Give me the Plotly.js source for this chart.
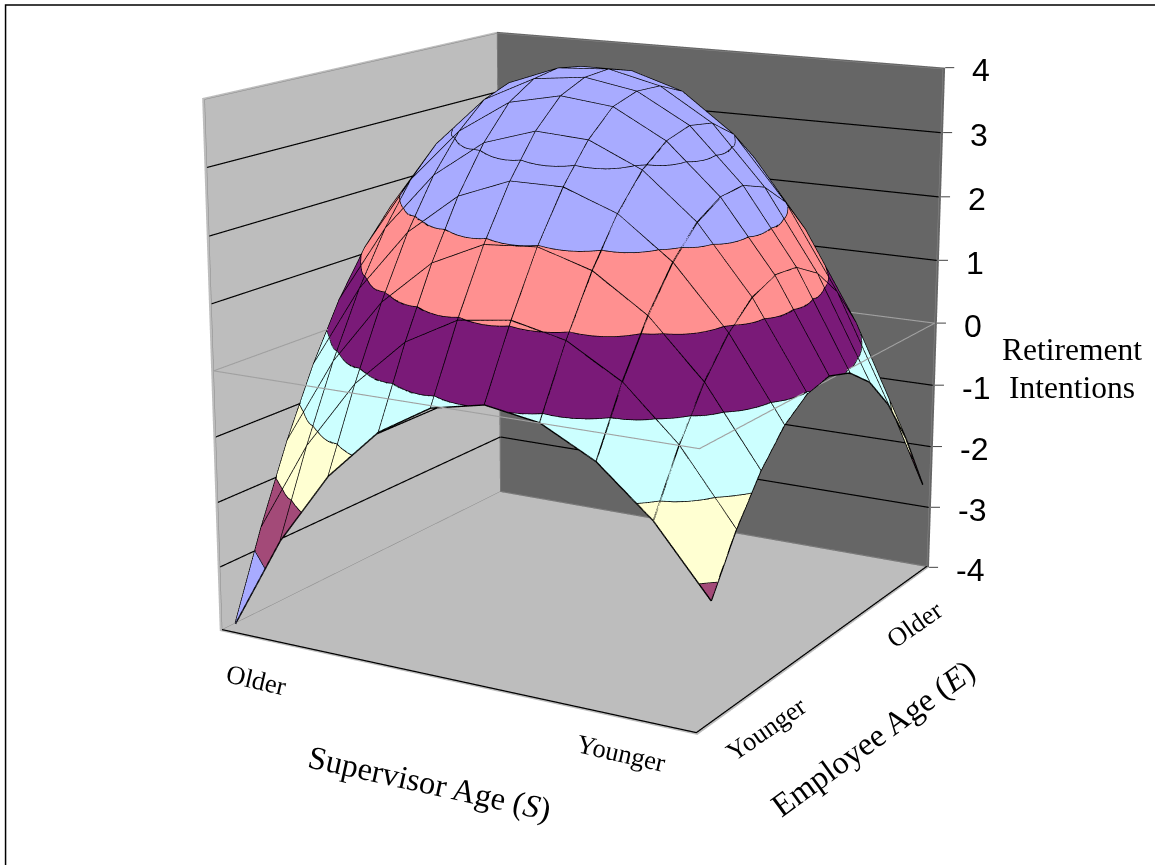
<!DOCTYPE html><html><head><meta charset="utf-8"><script src="https://cdn.plot.ly/plotly-3.0.1.min.js"></script></head><body style="margin:0;background:#fff;overflow:hidden">
<div id="g" style="position:absolute"></div>
<script>
// Supervisor age steps (older -> younger) and employee age steps (younger -> older)
const supervisorSteps=[0,1,2,3,4,5,6,7,8,9];
const employeeSteps=[0,1,2,3,4,5,6,7,8,9,10];
// Retirement intentions, one row per employee age step
const rowE0=[-4.03,-2.55,-1.42,-0.63,-0.15,0.02,-0.11,-0.53,-1.23,-2.21];
const rowE1=[-2.70,-1.28,-0.21,0.53,0.96,1.07,0.89,0.42,-0.35,-1.41];
const rowE2=[-1.51,-0.15,0.86,1.55,1.92,1.98,1.74,1.20,0.37,-0.77];
const rowE3=[-0.48,0.82,1.78,2.41,2.72,2.72,2.42,1.82,0.91,-0.30];
const rowE4=[0.39,1.62,2.52,3.09,3.34,3.29,2.93,2.26,1.27,-0.02];
const rowE5=[1.08,2.25,3.08,3.59,3.76,3.67,3.24,2.50,1.45,0.07];
const rowE6=[1.59,2.69,3.46,3.85,3.94,3.80,3.36,2.55,1.42,-0.05];
const rowE7=[1.91,2.94,3.62,3.92,3.97,3.78,3.29,2.40,1.19,-0.36];
const rowE8=[2.03,2.99,3.60,3.85,3.85,3.60,3.01,2.05,0.76,-0.88];
const rowE9=[1.96,2.85,3.40,3.58,3.52,3.20,2.53,1.50,0.13,-1.60];
const rowE10=[1.79,2.53,2.93,3.21,3.08,2.63,1.86,0.75,-0.71,-2.53];
const zTicks=[-4,-3,-2,-1,0,1,2,3,4];
const bandColors=['#A8ABFF','#A34A78','#FFFFD2','#CCFFFF','#7A1A78','#FF9090','#A8ABFF','#A8ABFF'];

const z=[rowE0,rowE1,rowE2,rowE3,rowE4,rowE5,rowE6,rowE7,rowE8,rowE9,rowE10];
const cam=[2.467,-4.311,1.272,-0.039,0.032,0.043,1.000,0.995,2727.764,577.225,318.032];
function proj(x,y,v){const[ex,ey,ez,ccx,ccy,ccz,ax,ay,F,cx,cy]=cam;
 const X=(x-.5)*ax,Y=(y-.5)*ay,Z=v/8;
 let f=[ccx-ex,ccy-ey,ccz-ez];let n=Math.hypot(...f);f=f.map(w=>w/n);
 let r=[f[1],-f[0],0];n=Math.hypot(...r);r=r.map(w=>w/n);
 const u=[r[1]*f[2]-r[2]*f[1],r[2]*f[0]-r[0]*f[2],r[0]*f[1]-r[1]*f[0]];
 const d=[X-ex,Y-ey,Z-ez];const xc=d[0]*r[0]+d[1]*r[1]+d[2]*r[2],yc=d[0]*u[0]+d[1]*u[1]+d[2]*u[2],zc=d[0]*f[0]+d[1]*f[1]+d[2]*f[2];
 return [cx+F*xc/zc,cy-F*yc/zc];}
const F=cam[8],Hh=2*F*Math.tan(Math.PI/8),Wd=2*Math.max(cam[9],1155-cam[9])+20;
const offX=cam[9]-Wd/2,offY=cam[10]-Hh/2;
const g=document.getElementById('g');g.style.left=offX+'px';g.style.top=offY+'px';g.style.width=Wd+'px';g.style.height=Hh+'px';
const nI=supervisorSteps.length,nJ=employeeSteps.length,tr=[];
const cr=(a,b,c,d,t)=>.5*(2*b+(c-a)*t+(2*a-5*b+4*c-d)*t*t+(3*b-a-3*c+d)*t*t*t);
function ext(i,j){const ii=Math.max(0,Math.min(nI-1,i)),jj=Math.max(0,Math.min(nJ-1,j));let v=z[jj][ii];
 if(i<0)v+=z[jj][0]-z[jj][1];if(i>nI-1)v+=z[jj][nI-1]-z[jj][nI-2];if(j<0)v+=z[0][ii]-z[1][ii];if(j>nJ-1)v+=z[nJ-1][ii]-z[nJ-2][ii];return v;}
function smooth(u,v){const i=Math.min(nI-2,Math.floor(u)),j=Math.min(nJ-2,Math.floor(v)),tu=u-i,tv=v-j;const r=[];for(let m=-1;m<=2;m++)r.push(cr(ext(i-1,j+m),ext(i,j+m),ext(i+1,j+m),ext(i+2,j+m),tu));return cr(r[0],r[1],r[2],r[3],tv);}
function bil(u,v){const i=Math.min(nI-2,Math.floor(u)),j=Math.min(nJ-2,Math.floor(v)),a=u-i,b=v-j;return (1-a)*(1-b)*z[j][i]+a*(1-b)*z[j][i+1]+(1-a)*b*z[j+1][i]+a*b*z[j+1][i+1];}
function clip(poly,lv,up){const o=[];for(let a=0;a<poly.length;a++){const P=poly[a],Q=poly[(a+1)%poly.length];const pi=up?P[3]>=lv:P[3]<=lv,qi=up?Q[3]>=lv:Q[3]<=lv;if(pi)o.push(P);if(pi!=qi){const t=(lv-P[3])/(Q[3]-P[3]);o.push(P.map((w,k)=>w+t*(Q[k]-w)));}}return o;}
const SUB=6,tris=[];const vx=(u,v)=>[u,v,bil(u,v),smooth(u,v)];
for(let a=0;a<(nI-1)*SUB;a++)for(let b=0;b<(nJ-1)*SUB;b++){const u0=a/SUB,u1=(a+1)/SUB,v0=b/SUB,v1=(b+1)/SUB;const A=vx(u0,v0),B=vx(u1,v0),D=vx(u1,v1),E=vx(u0,v1);tris.push([A,B,D],[A,D,E]);}
bandColors.forEach((col,b)=>{const lo=zTicks[b],hi=zTicks[b+1];const X=[],Y=[],Z=[],I=[],J=[],K=[];
 for(const t of tris){const pl=clip(clip(t,lo,true),hi,false);if(pl.length<3)continue;const n0=X.length;pl.forEach(v=>{X.push(v[0]);Y.push(v[1]);Z.push(v[2]);});for(let q=1;q<pl.length-1;q++){I.push(n0);J.push(n0+q);K.push(n0+q+1);}}
 if(X.length)tr.push({type:'mesh3d',x:X,y:Y,z:Z,i:I,j:J,k:K,color:col,flatshading:true,lighting:{ambient:1,diffuse:0,specular:0,fresnel:0,roughness:1},hoverinfo:'skip'});});
const lx=[],ly=[],lz=[];const seg=(a,b)=>{lx.push(a[0],b[0],null);ly.push(a[1],b[1],null);lz.push(a[2],b[2],null);};
for(let j=0;j<nJ;j++)for(let i=0;i<nI-1;i++)seg([i,j,z[j][i]],[i+1,j,z[j][i+1]]);
for(let i=0;i<nI;i++)for(let j=0;j<nJ-1;j++)seg([i,j,z[j][i]],[i,j+1,z[j+1][i]]);
for(const L of zTicks.slice(1,-1))for(const t of tris){const pts=[];for(let a=0;a<3;a++){const P=t[a],Q=t[(a+1)%3];if((P[3]-L)*(Q[3]-L)<0){const u=(L-P[3])/(Q[3]-P[3]);pts.push(P.map((w,k)=>w+u*(Q[k]-w)));}}if(pts.length==2)seg(pts[0],pts[1]);}
tr.push({type:'scatter3d',mode:'lines',x:lx,y:ly,z:lz,line:{color:'#000',width:2.8},hoverinfo:'skip',connectgaps:false});
const X0=0,X1=9,Y0=-.5,Y1=10.5,ins=.03;
const xa=X0+ins,xb=X1-ins,ya=Y0+ins,yb=Y1-ins,zlo=-3.98,zhi=3.98;
const poly=(pts,color,width)=>tr.push({type:'scatter3d',mode:'lines',x:pts.map(q=>q&&q[0]),y:pts.map(q=>q&&q[1]),z:pts.map(q=>q&&q[2]),line:{color,width},hoverinfo:'skip'});
const gridPts=[];zTicks.filter(v=>v!=0&&Math.abs(v)!=4).forEach(v=>gridPts.push([xa,ya,v],[xa,yb,v],[xb,yb,v],null));
poly(gridPts,'#000',2.4);
poly([[xa,ya,0],[xb,ya,0],[xb,yb,0],[xa,yb,0],[xa,ya,0]],'#A0A0A0',2.2);
poly([[xa,ya,zlo],[xb,ya,zlo],[xb,ya,zlo],[xb,yb,zlo]],'#000',2.5);
poly([[xa,ya,zlo],[xa,yb,zlo],[xb,yb,zlo],[xb,yb,zhi],null,[xa,yb,zlo],[xa,yb,zhi],null,[xa,ya,zlo],[xa,ya,zhi],[xa,yb,zhi],[xb,yb,zhi]],'#888',1);
const ax={showbackground:true,showgrid:false,zeroline:false,showticklabels:false,showspikes:false,title:{text:''},autorange:false};
const px=v=>(v-offX)/Wd,py=v=>1-(v-offY)/Hh;
const txt=(text,x,y,angle,family,size)=>({text,xref:'paper',yref:'paper',x:px(x),y:py(y),textangle:angle,showarrow:false,xanchor:'center',yanchor:'middle',font:{family,size,color:'#000'}});
const serif='"Liberation Serif",serif',sans='"Liberation Sans",Arial,sans-serif';
const ann=[txt('Older',257,680,13,serif,26.5),txt('Younger',621,753,13,serif,26.5),txt('Younger',766,729,-35,serif,26.5),txt('Older',915,624,-35,serif,26.5),
 txt('Supervisor Age (<i>S</i>)',430,783,12.5,serif,32.5),txt('Employee Age (<i>E</i>)',873,738,-36,serif,32.5),txt('Retirement',1072,350,0,serif,31.5),txt('Intentions',1072,388,0,serif,31.5)];
const shapes=[{type:'rect',xref:'paper',yref:'paper',x0:px(6),x1:px(1400),y0:py(5),y1:py(1400),line:{color:'#000',width:1.5}}];
const zAnn=zTicks.map(v=>{const q=proj(1,1,v);shapes.push({type:'line',xref:'paper',yref:'paper',x0:px(q[0]),x1:px(q[0]+9),y0:py(q[1]),y1:py(q[1]),line:{color:'#444',width:1}});const a=txt(String(v),q[0]+25,q[1]+2.5,0,sans,32);a.xanchor='left';return a;});
Plotly.newPlot('g',tr,{width:Wd,height:Hh,margin:{l:0,r:0,t:0,b:0},paper_bgcolor:'#fff',showlegend:false,annotations:ann.concat(zAnn),shapes,
 scene:{domain:{x:[0,1],y:[0,1]},aspectmode:'manual',aspectratio:{x:cam[6],y:cam[7],z:1},camera:{eye:{x:cam[0],y:cam[1],z:cam[2]},center:{x:cam[3],y:cam[4],z:cam[5]},up:{x:0,y:0,z:1},projection:{type:'perspective'}},
 xaxis:{...ax,range:[X0,X1],backgroundcolor:'#BDBDBD'},yaxis:{...ax,range:[Y0,Y1],backgroundcolor:'#666666'},zaxis:{...ax,range:[-4,4],backgroundcolor:'#BDBDBD'}}},{displayModeBar:false});
</script></body></html>
